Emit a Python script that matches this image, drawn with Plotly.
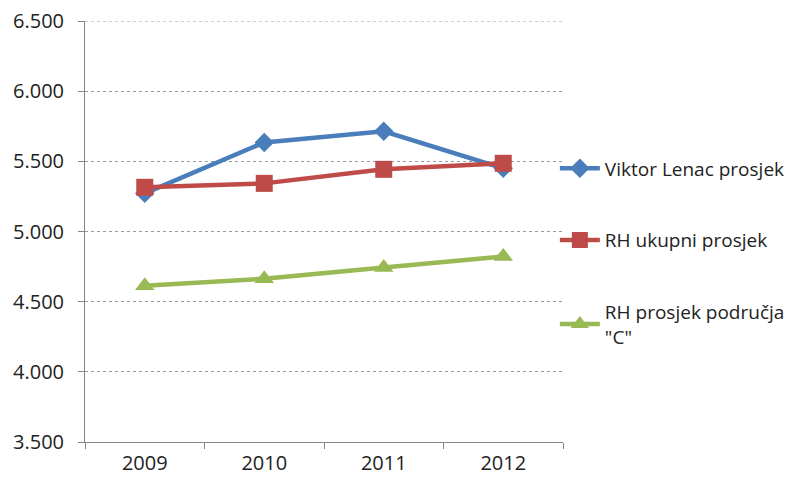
import plotly.graph_objects as go

years = ["2009", "2010", "2011", "2012"]
viktor = [5272, 5635, 5714, 5450]
rh_ukupni = [5315, 5343, 5443, 5486]
rh_c = [4614, 4664, 4743, 4822]
names = ["Viktor Lenac prosjek", "RH ukupni prosjek", 'RH prosjek područja<br>"C"']
colors = ["#4A7EBB", "#BE4B48", "#98B954"]
symbols = ["diamond", "square", "triangle-up"]
sizes = [15, 17, 17]
y_ticks = [3500, 4000, 4500, 5000, 5500, 6000, 6500]

fig = go.Figure()
for i, vals in enumerate([viktor, rh_ukupni, rh_c]):
    fig.add_trace(go.Scatter(
        x=years, y=vals, name=names[i], mode="lines+markers",
        line=dict(color=colors[i], width=4.5),
        marker=dict(symbol=symbols[i], size=sizes[i], color=colors[i]),
        legendgroup=str(i),
    ))

fig.update_layout(
    width=789, height=483,
    margin=dict(l=77, r=234, t=13, b=49, autoexpand=False),
    paper_bgcolor="white", plot_bgcolor="white",
    font=dict(family="Open Sans", size=20, color="#222222"),
    separators=",.",
    showlegend=True,
    legend=dict(x=0.983, xanchor="left", y=0.695, yanchor="top",
                font=dict(size=19), tracegroupgap=44,
                bgcolor="rgba(0,0,0,0)", itemwidth=40),
    xaxis=dict(type="category", range=[-0.5, 3.5], tickson="boundaries",
               ticks="outside", ticklen=6, tickcolor="#868686",
               showline=True, linecolor="#868686", linewidth=1,
               showgrid=False, tickfont=dict(size=20), fixedrange=True,
               ticklabelstandoff=3),
    yaxis=dict(range=[3500, 6500], tickvals=y_ticks, tickformat=",d",
               ticks="outside", ticklen=6, tickcolor="#868686",
               showline=True, linecolor="#868686", linewidth=1,
               showgrid=True, gridcolor="#9a9a9a", griddash="dot", gridwidth=1,
               zeroline=False, tickfont=dict(size=20), fixedrange=True,
               ticklabelstandoff=10, ticklabeloverflow="allow"),
)
fig.add_shape(type="line", xref="paper", yref="y", x0=0, x1=1,
              y0=y_ticks[-1], y1=y_ticks[-1],
              line=dict(color="#9a9a9a", width=1, dash="dot"), layer="below")

fig.write_html("out.html")
